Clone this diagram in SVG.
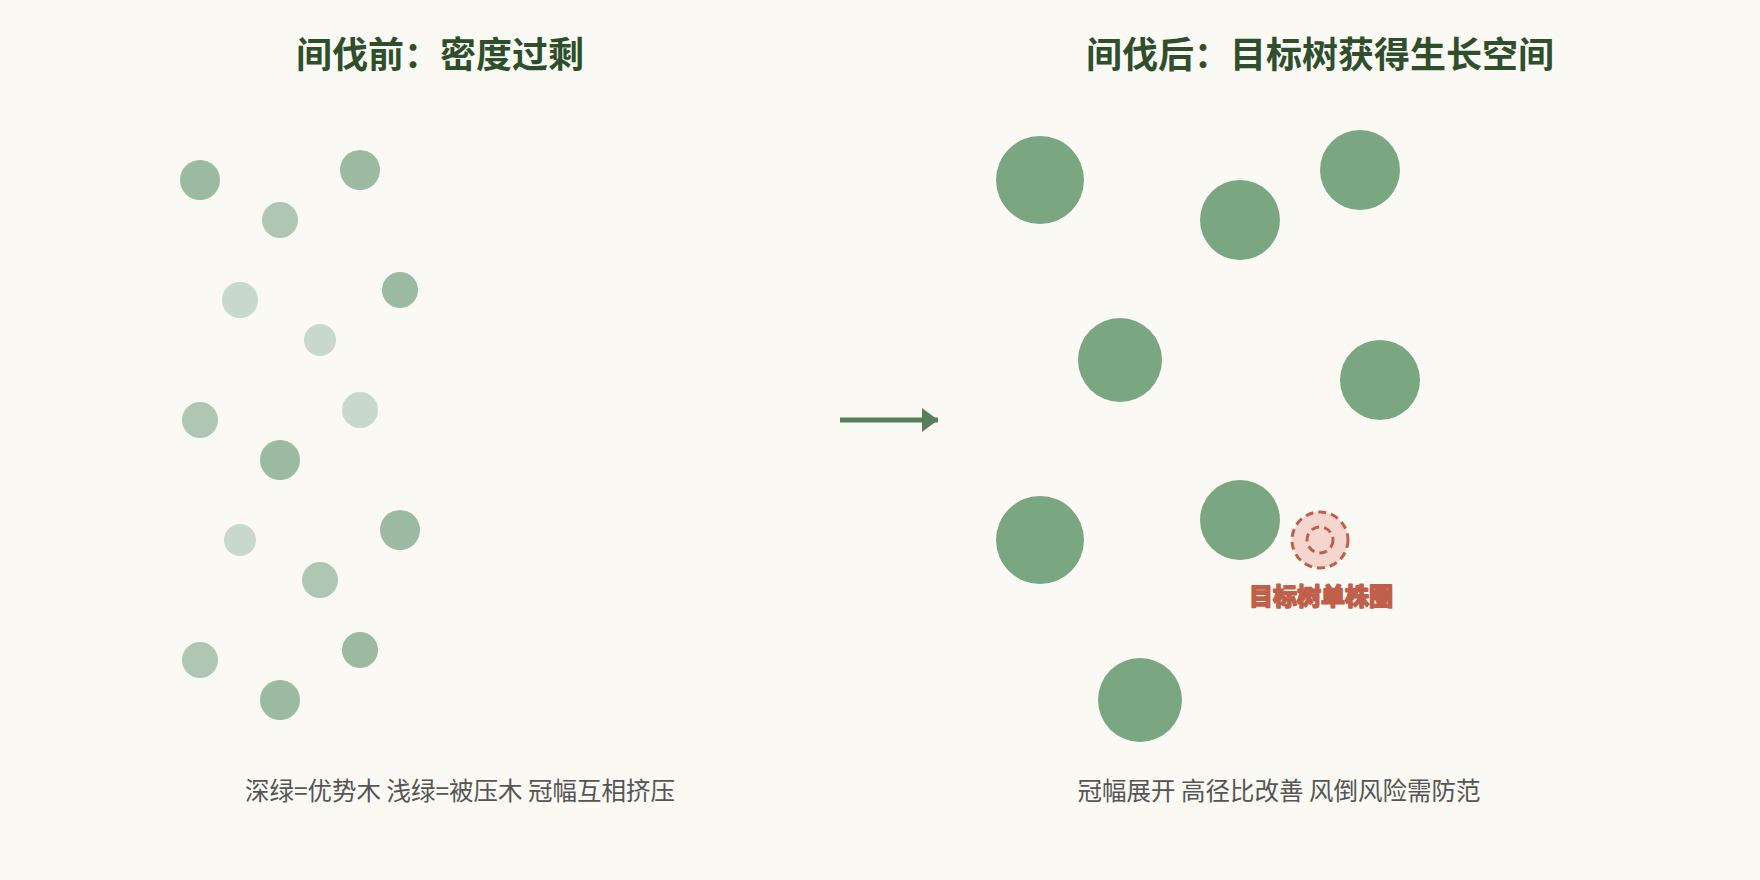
<svg xmlns="http://www.w3.org/2000/svg" width="1760" height="880" viewBox="0 0 1760 880">
<style>
.title{font-family:"Noto Sans CJK SC","Noto Sans",sans-serif;font-size:36px;font-weight:700;fill:#2f4f2c;text-anchor:middle}
.sub{font-family:"Noto Sans CJK SC","Noto Sans",sans-serif;font-size:24.5px;fill:#555555;text-anchor:middle}
.dark{fill:#9cb9a1}
.mid{fill:#afc6b3}
.light{fill:#c9d8cd}
.big{fill:#7ba682}
.tgt{fill:#f4d6cf;stroke:#c0604a;stroke-width:3;stroke-dasharray:8 5}
.tgtin{fill:none;stroke:#c0604a;stroke-width:3;stroke-dasharray:8 5}
.tlabel{font-family:"Noto Sans CJK SC","Noto Sans",sans-serif;font-size:24px;font-weight:700;fill:#c0604a;stroke:#c0604a;stroke-width:1.8;stroke-linejoin:round;text-anchor:middle}
</style>
<defs>
<marker id="ah" markerWidth="16" markerHeight="24" refX="16" refY="12" orient="auto" markerUnits="userSpaceOnUse">
<path d="M0,0 L16,12 L0,24 Z" fill="#577f58"/>
</marker>
</defs>
<rect x="0" y="0" width="1760" height="880" fill="#faf9f4"/>
<g id="title-before"><text class="title" x="440" y="68">间伐前：密度过剩</text></g>
<g id="title-after"><text class="title" x="1320" y="68">间伐后：目标树获得生长空间</text></g>
<g id="before-trees">
<g id="b1"><circle class="dark" cx="200" cy="180" r="20"/></g>
<g id="b2"><circle class="dark" cx="360" cy="170" r="20"/></g>
<g id="b3"><circle class="mid" cx="280" cy="220" r="18"/></g>
<g id="b4"><circle class="light" cx="240" cy="300" r="18"/></g>
<g id="b5"><circle class="dark" cx="400" cy="290" r="18"/></g>
<g id="b6"><circle class="light" cx="320" cy="340" r="16"/></g>
<g id="b7"><circle class="mid" cx="200" cy="420" r="18"/></g>
<g id="b8"><circle class="light" cx="360" cy="410" r="18"/></g>
<g id="b9"><circle class="dark" cx="280" cy="460" r="20"/></g>
<g id="b10"><circle class="light" cx="240" cy="540" r="16"/></g>
<g id="b11"><circle class="dark" cx="400" cy="530" r="20"/></g>
<g id="b12"><circle class="mid" cx="320" cy="580" r="18"/></g>
<g id="b13"><circle class="mid" cx="200" cy="660" r="18"/></g>
<g id="b14"><circle class="dark" cx="360" cy="650" r="18"/></g>
<g id="b15"><circle class="dark" cx="280" cy="700" r="20"/></g>
</g>
<g id="after-trees">
<g id="a1"><circle class="big" cx="1040" cy="180" r="44"/></g>
<g id="a2"><circle class="big" cx="1240" cy="220" r="40"/></g>
<g id="a3"><circle class="big" cx="1360" cy="170" r="40"/></g>
<g id="a4"><circle class="big" cx="1120" cy="360" r="42"/></g>
<g id="a5"><circle class="big" cx="1380" cy="380" r="40"/></g>
<g id="a6"><circle class="big" cx="1040" cy="540" r="44"/></g>
<g id="a7"><circle class="big" cx="1240" cy="520" r="40"/></g>
<g id="a8"><circle class="big" cx="1140" cy="700" r="42"/></g>
</g>
<g id="target-tree">
<circle class="tgt" cx="1320" cy="540" r="28"/>
<circle class="tgtin" cx="1320" cy="540" r="13"/>
<text class="tlabel" x="1321" y="605">目标树单株圈</text>
</g>
<g id="connectors">
<line x1="840" y1="420" x2="938" y2="420" stroke="#577f58" stroke-width="5" marker-end="url(#ah)"/>
</g>
<g id="caption-before"><text class="sub" x="460" y="800">深绿=优势木 浅绿=被压木 冠幅互相挤压</text></g>
<g id="caption-after"><text class="sub" x="1279" y="800">冠幅展开 高径比改善 风倒风险需防范</text></g>
</svg>
